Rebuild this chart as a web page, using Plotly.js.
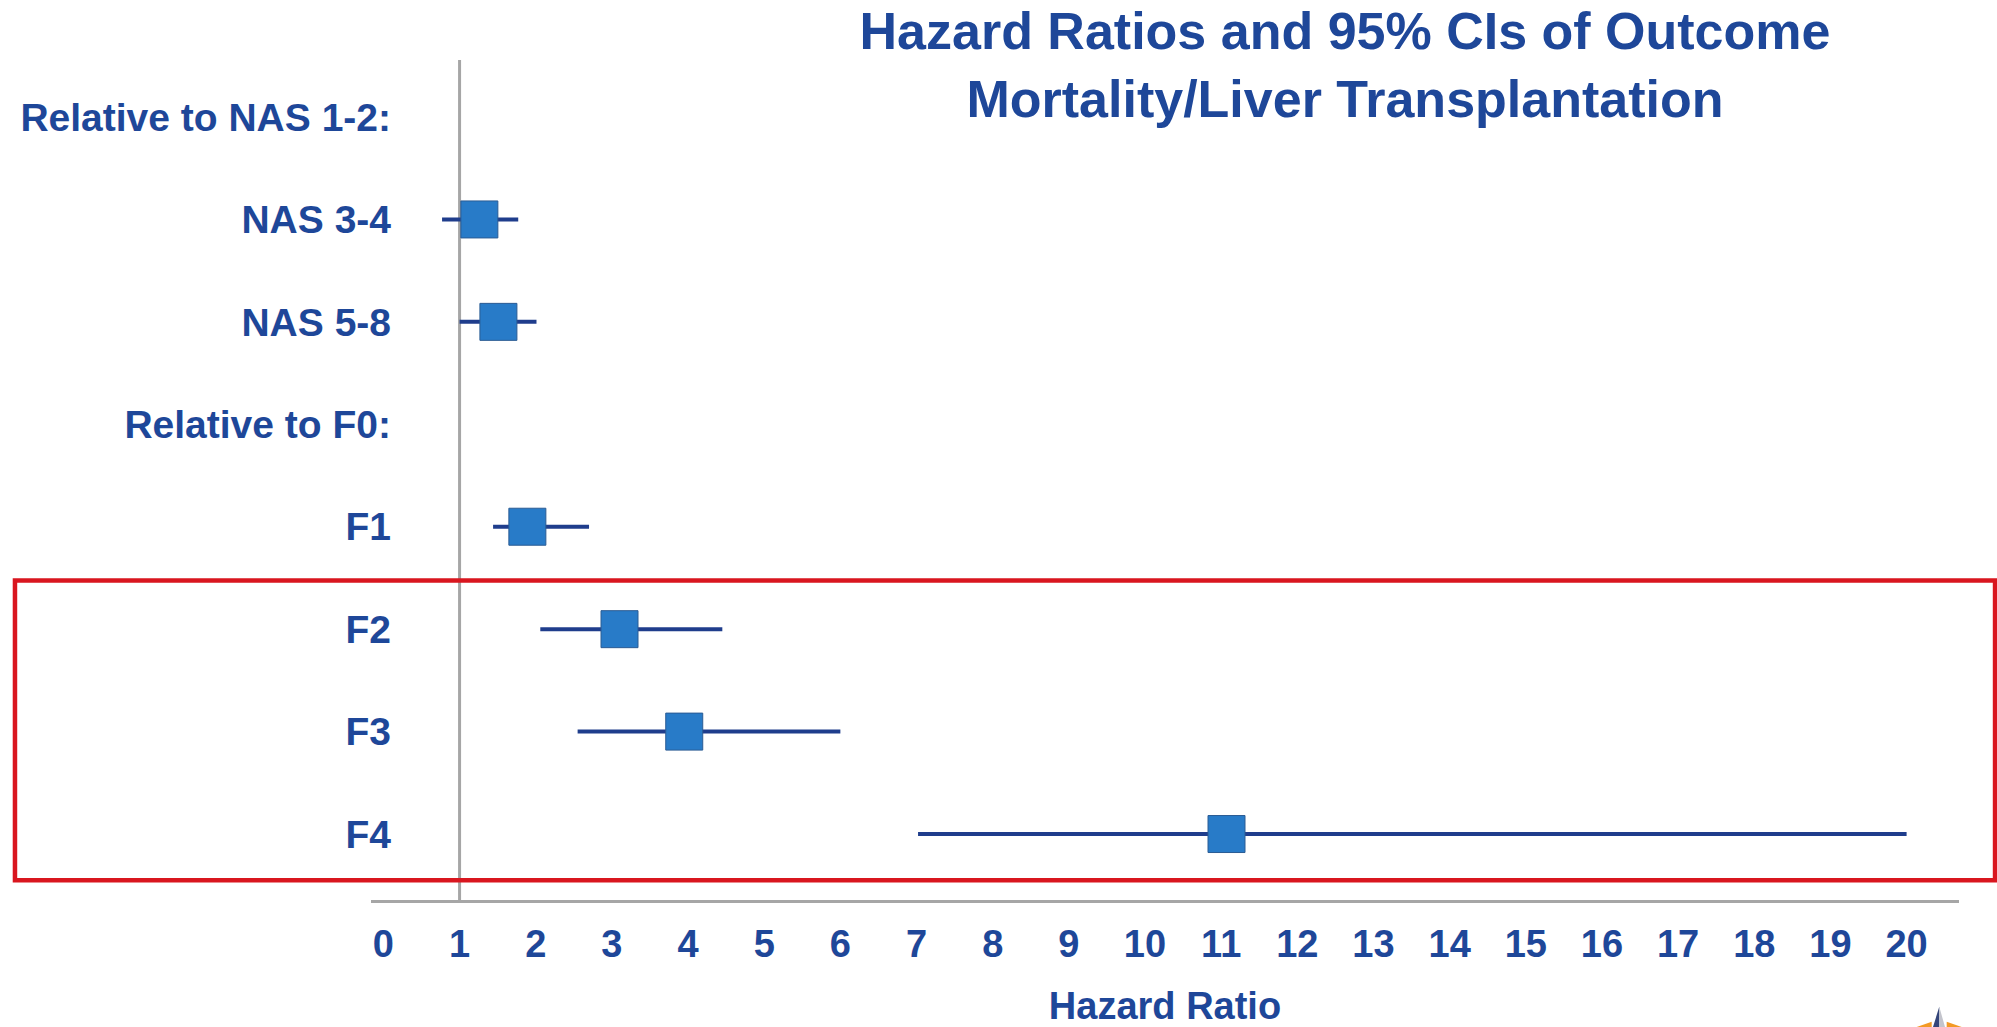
<!DOCTYPE html>
<html>
<head>
<meta charset="utf-8">
<script src="https://cdn.plot.ly/plotly-3.0.1.min.js"></script>
<style>html,body{margin:0;padding:0;background:#fff;}#chart{width:1997px;height:1027px;}</style>
</head>
<body>
<div id="chart"></div>
<script>
// ---- data ----
const rowLabels = ["Relative to NAS 1-2:", "NAS 3-4", "NAS 5-8", "Relative to F0:", "F1", "F2", "F3", "F4"];
const hazardRatio = [null, 1.26, 1.51, null, 1.89, 3.10, 3.95, 11.07];
const ciLower     = [null, 0.77, 1.00, null, 1.44, 2.06, 2.55, 7.02];
const ciUpper     = [null, 1.77, 2.01, null, 2.70, 4.45, 6.00, 20.00];
const xTickValues = [0,1,2,3,4,5,6,7,8,9,10,11,12,13,14,15,16,17,18,19,20];
const xTickLabels = ["0","1","2","3","4","5","6","7","8","9","10","11","12","13","14","15","16","17","18","19","20"];
const referenceHR = 1;

const textBlue = '#1e4799';
const fontFam = 'Liberation Sans, Arial, sans-serif';

const errPlus  = hazardRatio.map((v,i) => v === null ? null : ciUpper[i] - v);
const errMinus = hazardRatio.map((v,i) => v === null ? null : v - ciLower[i]);

const trace = {
  type: 'scatter',
  mode: 'markers',
  x: hazardRatio,
  y: rowLabels,
  marker: {symbol: 'square', size: 37, color: '#287bc8', line: {color: '#2b5c94', width: 1}},
  error_x: {type: 'data', symmetric: false, array: errPlus, arrayminus: errMinus,
            thickness: 4, width: 0, color: '#1f3d8c'},
  hovertemplate: '%{y}: HR %{x}<extra></extra>',
  showlegend: false,
  cliponaxis: false
};

const layout = {
  width: 1997, height: 1027,
  margin: {l: 371, r: 38, t: 60, b: 127},
  paper_bgcolor: '#ffffff', plot_bgcolor: '#ffffff',
  font: {family: fontFam, color: textBlue},
  title: {
    text: 'Hazard Ratios and 95% CIs of Outcome<br>Mortality/Liver Transplantation',
    font: {size: 52, weight: 700, family: fontFam, color: textBlue},
    x: 0.6735, xref: 'container', xanchor: 'center',
    y: 0.952, yref: 'container', yanchor: 'top'
  },
  xaxis: {
    range: [-0.163, 20.688],
    tickmode: 'array', tickvals: xTickValues, ticktext: xTickLabels,
    ticks: '', showgrid: false, zeroline: false,
    showline: true, linecolor: '#a6a6a6', linewidth: 3,
    tickfont: {size: 38, weight: 700, family: fontFam, color: textBlue},
    ticklabelstandoff: 8,
    title: {text: 'Hazard Ratio', font: {size: 38, weight: 700, family: fontFam, color: textBlue}, standoff: 32}
  },
  yaxis: {
    type: 'category',
    categoryorder: 'array', categoryarray: rowLabels,
    range: [7.644, -0.5565],
    ticks: '', showgrid: false, zeroline: false, showline: false,
    tickfont: {size: 39, weight: 700, family: fontFam, color: textBlue},
    ticklabelstandoff: -21
  },
  shapes: [
    {type: 'line', xref: 'x', yref: 'paper', x0: referenceHR, x1: referenceHR, y0: 0, y1: 1,
     line: {color: '#a6a6a6', width: 3}, layer: 'below'},
    {type: 'rect', xref: 'paper', yref: 'y', x0: -0.2242, x1: 1.0227, y0: 4.524, y1: 7.452,
     line: {color: '#d9161f', width: 4.5}, fillcolor: 'rgba(0,0,0,0)', layer: 'above'},
    // small corner logo (partially visible, as in the reference)
    {type: 'path', xref: 'paper', yref: 'paper', path: 'M 0.97336,-0.15119 L 0.98281,-0.14500 L 0.98281,-0.15119 Z', fillcolor: '#f39a25', line: {width: 0}},
    {type: 'path', xref: 'paper', yref: 'paper', path: 'M 0.99225,-0.14500 L 1.00170,-0.15119 L 0.99225,-0.15119 Z', fillcolor: '#f39a25', line: {width: 0}},
    {type: 'path', xref: 'paper', yref: 'paper', path: 'M 0.98363,-0.15119 L 0.98759,-0.12702 L 0.98759,-0.15119 Z', fillcolor: '#34457a', line: {width: 0}},
    {type: 'path', xref: 'paper', yref: 'paper', path: 'M 0.98759,-0.12702 L 0.99118,-0.15119 L 0.98759,-0.15119 Z', fillcolor: '#c3c4cc', line: {width: 0}}
  ]
};

Plotly.newPlot('chart', [trace], layout, {displayModeBar: false, staticPlot: true});
</script>
</body>
</html>
